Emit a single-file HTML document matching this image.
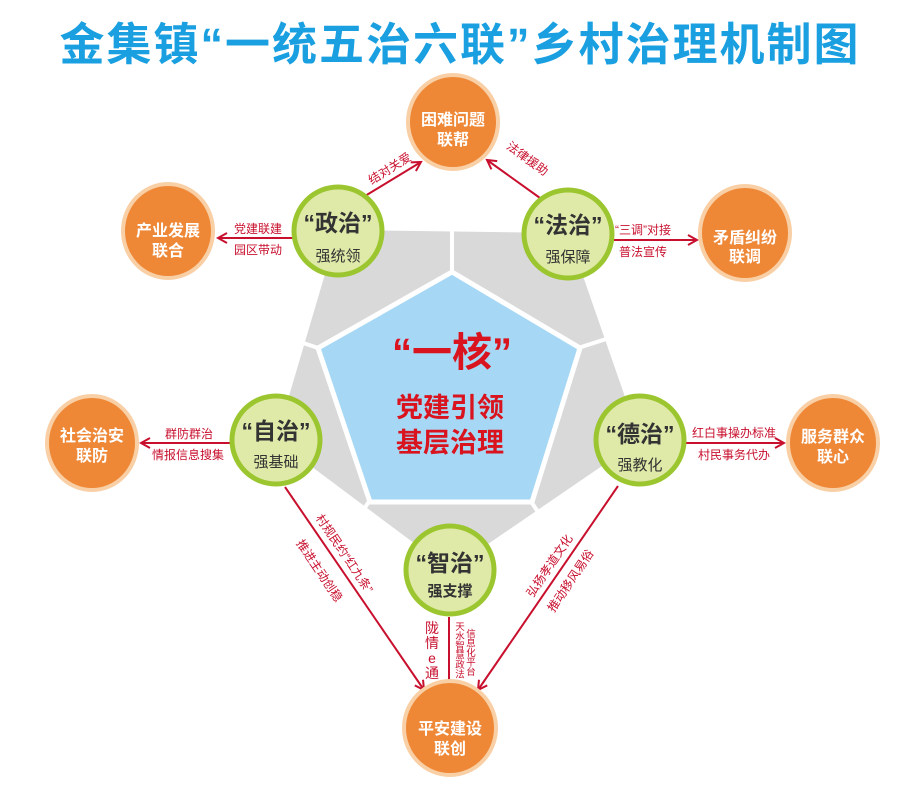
<!DOCTYPE html>
<html><head><meta charset="utf-8"><style>
html,body{margin:0;padding:0;background:#fff;}
svg{display:block;}
text{font-family:"Liberation Sans","Noto Sans CJK SC",sans-serif;}
</style></head><body>
<svg width="920" height="792" viewBox="0 0 920 792" xmlns="http://www.w3.org/2000/svg">
<defs>
<marker id="ah" viewBox="0 0 12 12" refX="10" refY="6" markerWidth="12" markerHeight="12" markerUnits="userSpaceOnUse" orient="auto">
<path d="M1,1 L10,6 L1,11" fill="none" stroke="#c8102e" stroke-width="2"/>
</marker>
</defs>
<text x="460" y="60" text-anchor="middle" font-size="45" font-weight="bold" fill="#1a9fe0" font-family="'Noto Sans CJK SC',sans-serif" letter-spacing="2">金集镇“一统五治六联”乡村治理机制图</text>

<polygon points="338,230 568,233 640,440 450,570 276,440" fill="#d9d9d9"/>
<g stroke="#fff" stroke-width="4">
<line x1="452" y1="270" x2="452" y2="200"/>
<line x1="318" y1="348" x2="250" y2="325"/>
<line x1="578" y1="348" x2="650" y2="325"/>
<line x1="370" y1="500" x2="330" y2="560"/>
<line x1="530" y1="500" x2="570" y2="560"/>
</g>
<polygon points="452,272 580,348 532,502 370,502 318,348" fill="#a6d8f5" stroke="#fff" stroke-width="5"/>
<text x="452" y="366" text-anchor="middle" font-size="40" font-weight="bold" fill="#d9141e">“一核”</text>
<text x="450" y="417" text-anchor="middle" font-size="27" font-weight="bold" fill="#d9141e">党建引领</text>
<text x="450" y="452" text-anchor="middle" font-size="27" font-weight="bold" fill="#d9141e">基层治理</text>

<g stroke="#c8102e" stroke-width="2" fill="none" marker-end="url(#ah)">
<line x1="365" y1="196" x2="421" y2="162"/>
<line x1="540" y1="198" x2="487" y2="160"/>
<line x1="293" y1="238" x2="218" y2="238"/>
<line x1="613" y1="240" x2="697" y2="240"/>
<line x1="230" y1="443" x2="141" y2="443"/>
<line x1="686" y1="443" x2="784" y2="443"/>
<line x1="285" y1="487" x2="424" y2="690"/>
<line x1="618" y1="486" x2="478" y2="690"/>
<line x1="449" y1="617" x2="449" y2="690"/>
</g>
<g fill="#c8102e" font-size="12">
<text transform="translate(392,172) rotate(-32)" text-anchor="middle">结对关爱</text>
<text transform="translate(525,162) rotate(36)" text-anchor="middle">法律援助</text>
<text x="258" y="233" text-anchor="middle">党建联建</text>
<text x="258" y="254" text-anchor="middle">园区带动</text>
<text x="643" y="234" text-anchor="middle">“三调”对接</text>
<text x="643" y="256" text-anchor="middle">普法宣传</text>
<text x="189" y="438" text-anchor="middle">群防群治</text>
<text x="188" y="459" text-anchor="middle">情报信息搜集</text>
<text x="734" y="437" text-anchor="middle">红白事操办标准</text>
<text x="734" y="459" text-anchor="middle">村民事务代办</text>
<text transform="translate(341,556) rotate(56)" text-anchor="middle">村规民约“红九条”</text>
<text transform="translate(316,573) rotate(56)" text-anchor="middle">推进主动创稳</text>
<text transform="translate(553,568) rotate(-56)" text-anchor="middle">弘扬孝道文化</text>
<text transform="translate(574,583) rotate(-56)" text-anchor="middle">推动移风易俗</text>
</g>
<g fill="#c8102e" text-anchor="middle">
<text font-size="14" x="432" y="633">陇</text>
<text font-size="14" x="432" y="648">情</text>
<text font-size="14" x="432" y="663">e</text>
<text font-size="14" x="432" y="678">通</text>
<g font-size="9.5">
<text x="460" y="630">天</text><text x="460" y="639.5">水</text><text x="460" y="649">智</text><text x="460" y="658.5">慧</text><text x="460" y="668">政</text><text x="460" y="677.5">法</text>
<text x="471" y="637">信</text><text x="471" y="646.5">息</text><text x="471" y="656">化</text><text x="471" y="665.5">平</text><text x="471" y="675">台</text>
</g>
</g>

<g fill="#ee8736" stroke="#f9cfa5" stroke-width="4">
<ellipse cx="453" cy="122" rx="45" ry="47"/>
<ellipse cx="168" cy="231" rx="45" ry="47"/>
<ellipse cx="745" cy="233" rx="45" ry="47"/>
<ellipse cx="92" cy="443" rx="45" ry="47"/>
<ellipse cx="833" cy="443" rx="45" ry="47"/>
<ellipse cx="450" cy="728" rx="46" ry="47"/>
</g>
<g fill="#fff" font-size="16" font-weight="bold" text-anchor="middle">
<text x="453" y="125">困难问题</text><text x="453" y="145">联帮</text>
<text x="168" y="236">产业发展</text><text x="168" y="256">联合</text>
<text x="745" y="243">矛盾纠纷</text><text x="745" y="262">联调</text>
<text x="92" y="441">社会治安</text><text x="92" y="461">联防</text>
<text x="833" y="442">服务群众</text><text x="833" y="462">联心</text>
<text x="450" y="734">平安建设</text><text x="450" y="754">联创</text>
</g>

<g fill="#dfeaa8" stroke="#9cc630" stroke-width="5">
<circle cx="338" cy="231" r="44"/>
<circle cx="568" cy="234" r="44"/>
<circle cx="276" cy="440" r="44"/>
<circle cx="640" cy="440" r="44"/>
<circle cx="450" cy="570" r="44"/>
</g>
<g fill="#333" text-anchor="middle">
<text x="338" y="231" font-size="23" font-weight="bold">“政治”</text>
<text x="338" y="261" font-size="15">强统领</text>
<text x="568" y="233" font-size="23" font-weight="bold">“法治”</text>
<text x="568" y="262" font-size="15">强保障</text>
<text x="276" y="439" font-size="23" font-weight="bold">“自治”</text>
<text x="276" y="467" font-size="15">强基础</text>
<text x="640" y="442" font-size="23" font-weight="bold">“德治”</text>
<text x="640" y="470" font-size="15">强教化</text>
<text x="450" y="571" font-size="23" font-weight="bold">“智治”</text>
<text x="450" y="596" font-size="15" font-weight="bold">强支撑</text>
</g>
</svg>
</body></html>
